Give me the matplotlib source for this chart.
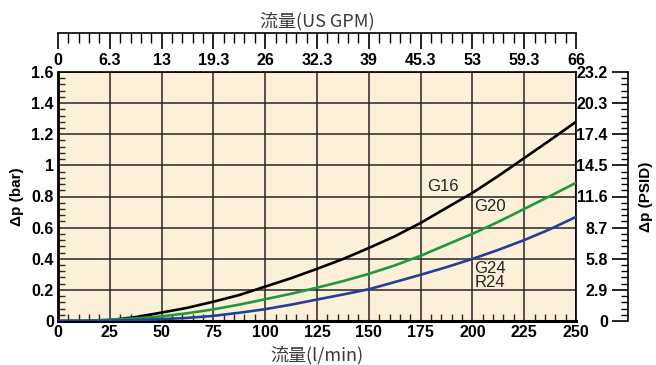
import numpy as np
import matplotlib
matplotlib.use("Agg")
import matplotlib.pyplot as plt
from matplotlib.ticker import MultipleLocator, FixedLocator

plt.rcParams['font.family'] = ['Liberation Sans', 'DejaVu Sans']

# flow in l/min and pressure drop in bar
flow = [0, 12.5, 25, 37.5, 50, 62.5, 75, 87.5, 100, 112.5, 125,
        137.5, 150, 162.5, 175, 187.5, 200, 212.5, 225, 237.5, 250]
dp_g16 = [0, 0.001, 0.006, 0.025, 0.054, 0.085, 0.124, 0.167, 0.221, 0.275, 0.335,
          0.398, 0.469, 0.544, 0.63, 0.727, 0.823, 0.932, 1.047, 1.162, 1.28]
dp_g20 = [0, 0.001, 0.008, 0.017, 0.03, 0.05, 0.075, 0.105, 0.14, 0.175, 0.214,
          0.256, 0.303, 0.357, 0.419, 0.49, 0.56, 0.637, 0.72, 0.803, 0.888]
dp_g24 = [0, 0.0, 0.002, 0.006, 0.012, 0.02, 0.033, 0.053, 0.076, 0.105, 0.138,
          0.17, 0.204, 0.25, 0.297, 0.346, 0.399, 0.457, 0.52, 0.59, 0.669]

gpm_labels = ['0', '6.3', '13', '19.3', '26', '32.3', '39', '45.3', '53', '59.3', '66']
psid_ticks = [0, 2.9, 5.8, 8.7, 11.6, 14.5, 17.4, 20.3, 23.2]

cjk = ['Noto Sans CJK JP', 'DejaVu Sans']
narrow = ['Liberation Sans Narrow', 'Liberation Sans', 'DejaVu Sans']
bg = '#fdf0d8'
tick_fs = 11.5

fig = plt.figure(figsize=(6.56, 3.65), dpi=100)
L, B, W, H = 58/656, 44/365, 518/656, 249/365
ax = fig.add_axes([L, B, W, H])
ax.set_facecolor(bg)

ax.plot(flow, dp_g16, color='black', lw=1.9, zorder=3)
ax.plot(flow, dp_g20, color='#1c9a3c', lw=1.9, zorder=3)
ax.plot(flow, dp_g24, color='#233f98', lw=1.9, zorder=3)

ax.set_xlim(0, 250)
ax.set_ylim(0, 1.6)
ax.xaxis.set_minor_locator(MultipleLocator(5))
ax.yaxis.set_minor_locator(MultipleLocator(0.04))
ax.set_xticks(np.arange(0, 251, 25))
ax.set_yticks(np.arange(0, 1.61, 0.2))
ax.set_yticklabels(['0', '0.2', '0.4', '0.6', '0.8', '1', '1.2', '1.4', '1.6'])
ax.grid(True, which='major', color='#262626', lw=1.1, zorder=1)
ax.tick_params(which='major', length=0, pad=3)
ax.tick_params(which='minor', direction='in', length=5, width=1, color='#2a2a2a')
for lab in ax.get_xticklabels() + ax.get_yticklabels():
    lab.set_fontweight('bold')
    lab.set_family(narrow)
    lab.set_fontsize(tick_fs)
for s in ax.spines.values():
    s.set_linewidth(1.2)
ax.spines['left'].set_linewidth(2)
ax.spines['bottom'].set_linewidth(2.2)

ax.set_ylabel('Δp (bar)', fontsize=11, fontweight='bold', labelpad=5)
ax.set_xlabel('流量(l/min)', family=cjk, fontsize=13, color='#3a3a3a', labelpad=4)

lab_kw = dict(fontsize=12, color='#222222', family=narrow, va='center')
ax.text(178, 0.865, 'G16', **lab_kw)
ax.text(201, 0.735, 'G20', **lab_kw)
ax.text(201, 0.34, 'G24', **lab_kw)
ax.text(201, 0.245, 'R24', **lab_kw)

# top axis in US GPM
axt = fig.add_axes([L, (365-33)/365, W, 0.0001])
axt.patch.set_visible(False)
for k in ['top', 'left', 'right']:
    axt.spines[k].set_visible(False)
axt.spines['bottom'].set_linewidth(1.2)
axt.set_xlim(0, 250)
axt.set_yticks([])
axt.xaxis.set_major_locator(FixedLocator(np.arange(0, 251, 25)))
axt.xaxis.set_minor_locator(MultipleLocator(5))
axt.set_xticklabels(gpm_labels)
axt.tick_params(which='major', direction='out', length=11.5, width=1.2, pad=3)
axt.tick_params(which='minor', direction='out', length=7, width=1)
for lab in axt.get_xticklabels():
    lab.set_fontweight('bold')
    lab.set_family(narrow)
    lab.set_fontsize(tick_fs)
axt.xaxis.set_label_position('top')
axt.set_xlabel('流量(US GPM)', family=cjk, fontsize=13, color='#3a3a3a', labelpad=5)

# right axis in PSID
axr = fig.add_axes([628/656, B, 0.0001, H])
axr.patch.set_visible(False)
for k in ['top', 'bottom', 'right']:
    axr.spines[k].set_visible(False)
axr.spines['left'].set_linewidth(1.2)
axr.set_ylim(0, 23.2)
axr.set_xticks([])
axr.yaxis.set_major_locator(FixedLocator(psid_ticks))
axr.yaxis.set_minor_locator(MultipleLocator(0.58))
axr.set_yticklabels([f'{v:g}' for v in psid_ticks])
axr.tick_params(which='major', direction='out', length=11.5, width=1.2, pad=3)
axr.tick_params(which='minor', direction='out', length=5, width=1)
for lab in axr.get_yticklabels():
    lab.set_fontweight('bold')
    lab.set_family(narrow)
    lab.set_fontsize(tick_fs)
axr.yaxis.set_label_position('right')
axr.set_ylabel('Δp (PSID)', fontsize=11, fontweight='bold', labelpad=8)

fig.savefig('out.png', dpi=100)
